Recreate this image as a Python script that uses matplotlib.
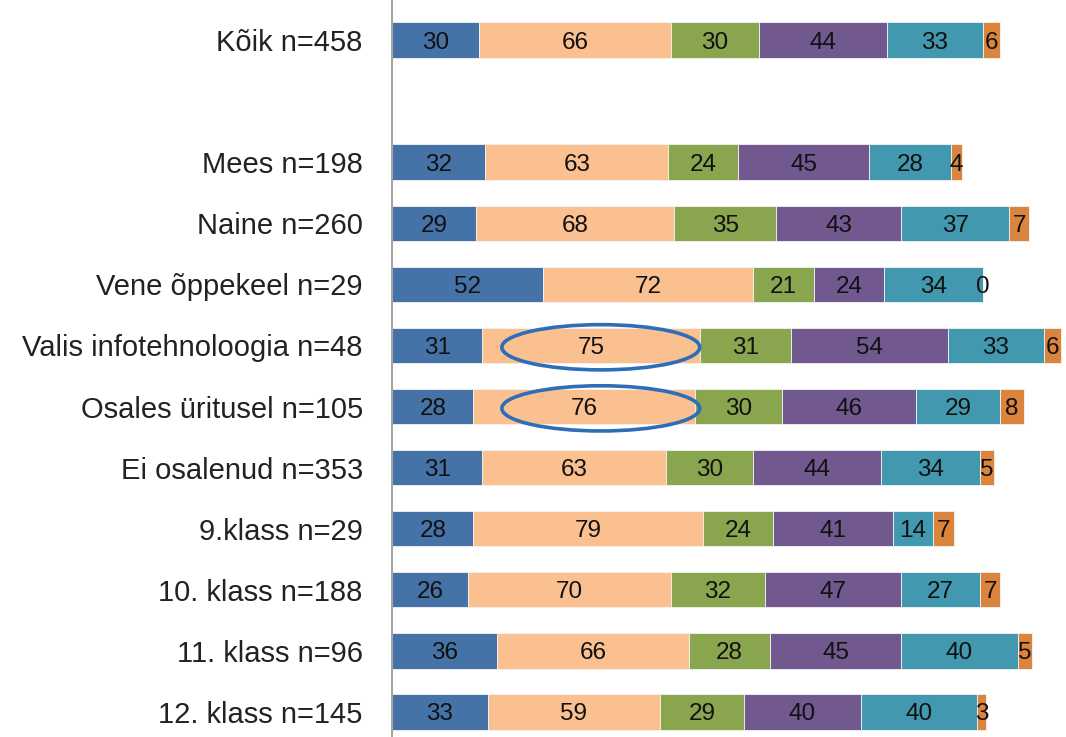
import numpy as np
import matplotlib.pyplot as plt
from matplotlib.patches import Ellipse

# Data
labels = ['Kõik n=458', 'Mees n=198', 'Naine n=260', 'Vene õppekeel n=29',
          'Valis infotehnoloogia n=48', 'Osales üritusel n=105', 'Ei osalenud n=353',
          '9.klass n=29', '10. klass n=188', '11. klass n=96', '12. klass n=145']
positions = [0, 2, 3, 4, 5, 6, 7, 8, 9, 10, 11]

s1 = [30, 32, 29, 52, 31, 28, 31, 28, 26, 36, 33]
s2 = [66, 63, 68, 72, 75, 76, 63, 79, 70, 66, 59]
s3 = [30, 24, 35, 21, 31, 30, 30, 24, 32, 28, 29]
s4 = [44, 45, 43, 24, 54, 46, 44, 41, 47, 45, 40]
s5 = [33, 28, 37, 34, 33, 29, 34, 14, 27, 40, 40]
s6 = [6, 4, 7, 0, 6, 8, 5, 7, 7, 5, 3]
series = [s1, s2, s3, s4, s5, s6]
colors = ['#4572A7', '#FAC090', '#89A54E', '#71588F', '#4198AF', '#DB843D']

# rows highlighted with an ellipse around the 2nd segment
highlight = [4, 5]

fig = plt.figure(figsize=(10.66, 7.37), dpi=100)
ax = fig.add_axes([392 / 1066, 0, 1 - 392 / 1066, 1])

font = 'Liberation Sans'
left = np.zeros(len(labels))
for vals, c in zip(series, colors):
    vals = np.array(vals)
    ax.barh(positions, vals, left=left, height=0.58, color=c,
            edgecolor='#f4f4f4', linewidth=0.6)
    for p, l, v in zip(positions, left, vals):
        ax.text(l + v / 2, p, str(v), ha='center', va='center_baseline',
                fontsize=17.5, family=font, color='#111111')
    left += vals

# both ellipses share one centre, around the middle of the 2nd segments
cx = np.mean([s1[i] + s2[i] / 2 for i in highlight]) + 4.5
for i in highlight:
    ax.add_patch(Ellipse((cx, positions[i] + 0.03), 68, 0.74, fill=False,
                         edgecolor='#2E6DB8', linewidth=2.6, zorder=5))

ax.set_xlim(0, 231.6)
ax.set_ylim(11.41, -0.655)
ax.set_yticks(positions)
ax.set_yticklabels(labels, fontsize=21, family=font, color='#222222')
ax.tick_params(axis='y', length=0, pad=21)
ax.set_xticks([])
for s in ['top', 'right', 'bottom']:
    ax.spines[s].set_visible(False)
ax.spines['left'].set_color('#A6A6A6')
ax.spines['left'].set_linewidth(1.5)

fig.savefig('out.png', dpi=100)
